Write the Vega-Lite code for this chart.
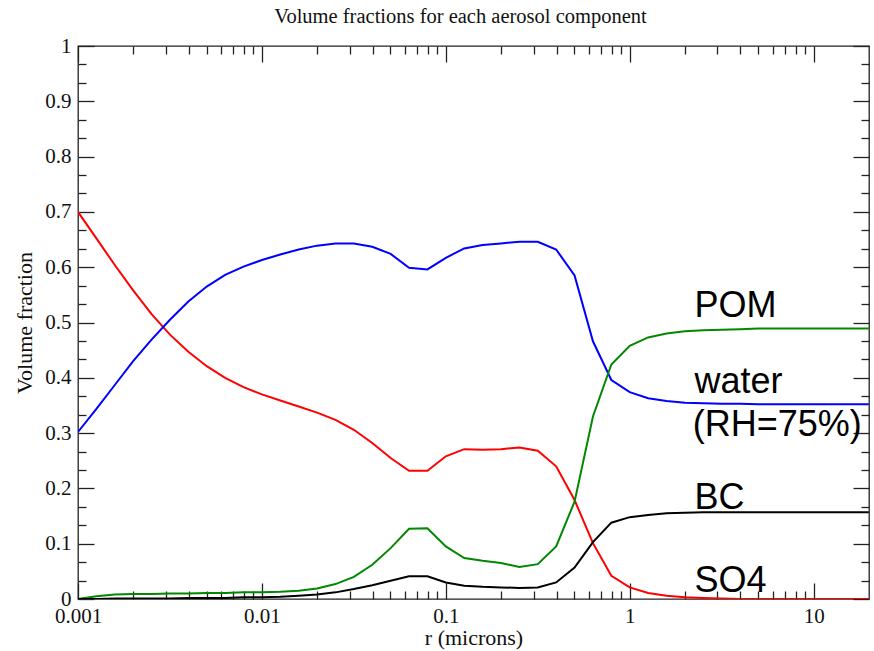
{
  "$schema": "https://vega.github.io/schema/vega-lite/v6.json",
  "width": 791,
  "height": 553,
  "autosize": "none",
  "padding": {"left": 78, "top": 46, "right": 5, "bottom": 52},
  "background": "white",
  "title": {
    "text": "Volume fractions for each aerosol component",
    "font": "Liberation Serif",
    "fontSize": 20.5,
    "fontWeight": "normal",
    "color": "#111",
    "anchor": "middle",
    "dx": -13,
    "offset": 8
  },
  "config": {
    "view": {"stroke": "#222", "strokeWidth": 1.3},
    "axis": {
      "domain": false,
      "grid": false,
      "labelFont": "Liberation Serif",
      "labelFontSize": 21,
      "labelColor": "#111",
      "labelFlush": false,
      "labelOverlap": false,
      "tickColor": "#222",
      "tickWidth": 1.3,
      "titleFont": "Liberation Serif",
      "titleFontSize": 22,
      "titleFontWeight": "normal",
      "titleColor": "#111"
    }
  },
  "datasets": {
    "curves": [
      {"r": 0.001, "SO4": 0.700, "water": 0.302, "POM": 0.000, "BC": 0.000},
      {"r": 0.001259, "SO4": 0.652, "water": 0.344, "POM": 0.005, "BC": 0.000},
      {"r": 0.001585, "SO4": 0.604, "water": 0.387, "POM": 0.008, "BC": 0.001},
      {"r": 0.001995, "SO4": 0.558, "water": 0.430, "POM": 0.009, "BC": 0.001},
      {"r": 0.002512, "SO4": 0.515, "water": 0.469, "POM": 0.009, "BC": 0.001},
      {"r": 0.003162, "SO4": 0.478, "water": 0.505, "POM": 0.010, "BC": 0.001},
      {"r": 0.003981, "SO4": 0.447, "water": 0.538, "POM": 0.010, "BC": 0.002},
      {"r": 0.005012, "SO4": 0.421, "water": 0.565, "POM": 0.011, "BC": 0.002},
      {"r": 0.00631, "SO4": 0.400, "water": 0.586, "POM": 0.011, "BC": 0.002},
      {"r": 0.007943, "SO4": 0.383, "water": 0.601, "POM": 0.012, "BC": 0.003},
      {"r": 0.01, "SO4": 0.370, "water": 0.613, "POM": 0.012, "BC": 0.003},
      {"r": 0.01259, "SO4": 0.359, "water": 0.623, "POM": 0.013, "BC": 0.004},
      {"r": 0.01585, "SO4": 0.348, "water": 0.632, "POM": 0.015, "BC": 0.006},
      {"r": 0.01995, "SO4": 0.337, "water": 0.639, "POM": 0.019, "BC": 0.008},
      {"r": 0.02512, "SO4": 0.324, "water": 0.643, "POM": 0.027, "BC": 0.012},
      {"r": 0.03162, "SO4": 0.306, "water": 0.643, "POM": 0.040, "BC": 0.018},
      {"r": 0.03981, "SO4": 0.282, "water": 0.637, "POM": 0.062, "BC": 0.025},
      {"r": 0.05012, "SO4": 0.255, "water": 0.624, "POM": 0.092, "BC": 0.033},
      {"r": 0.0631, "SO4": 0.232, "water": 0.599, "POM": 0.127, "BC": 0.041},
      {"r": 0.07943, "SO4": 0.232, "water": 0.596, "POM": 0.128, "BC": 0.041},
      {"r": 0.1, "SO4": 0.258, "water": 0.617, "POM": 0.095, "BC": 0.030},
      {"r": 0.1259, "SO4": 0.271, "water": 0.634, "POM": 0.074, "BC": 0.024},
      {"r": 0.1585, "SO4": 0.270, "water": 0.640, "POM": 0.069, "BC": 0.022},
      {"r": 0.1995, "SO4": 0.271, "water": 0.643, "POM": 0.065, "BC": 0.021},
      {"r": 0.2512, "SO4": 0.274, "water": 0.646, "POM": 0.058, "BC": 0.020},
      {"r": 0.3162, "SO4": 0.268, "water": 0.646, "POM": 0.063, "BC": 0.021},
      {"r": 0.3981, "SO4": 0.240, "water": 0.632, "POM": 0.095, "BC": 0.030},
      {"r": 0.5012, "SO4": 0.179, "water": 0.585, "POM": 0.176, "BC": 0.057},
      {"r": 0.631, "SO4": 0.101, "water": 0.466, "POM": 0.330, "BC": 0.103},
      {"r": 0.7943, "SO4": 0.042, "water": 0.396, "POM": 0.424, "BC": 0.138},
      {"r": 1, "SO4": 0.021, "water": 0.374, "POM": 0.458, "BC": 0.148},
      {"r": 1.259, "SO4": 0.011, "water": 0.363, "POM": 0.473, "BC": 0.152},
      {"r": 1.585, "SO4": 0.006, "water": 0.358, "POM": 0.480, "BC": 0.155},
      {"r": 1.995, "SO4": 0.003, "water": 0.355, "POM": 0.484, "BC": 0.156},
      {"r": 2.512, "SO4": 0.002, "water": 0.354, "POM": 0.486, "BC": 0.157},
      {"r": 3.162, "SO4": 0.001, "water": 0.353, "POM": 0.487, "BC": 0.157},
      {"r": 3.981, "SO4": 0.000, "water": 0.353, "POM": 0.488, "BC": 0.157},
      {"r": 5.012, "SO4": 0.000, "water": 0.352, "POM": 0.489, "BC": 0.157},
      {"r": 6.31, "SO4": 0.000, "water": 0.352, "POM": 0.489, "BC": 0.157},
      {"r": 7.943, "SO4": 0.000, "water": 0.352, "POM": 0.489, "BC": 0.157},
      {"r": 10, "SO4": 0.000, "water": 0.352, "POM": 0.489, "BC": 0.157},
      {"r": 12.59, "SO4": 0.000, "water": 0.352, "POM": 0.489, "BC": 0.157},
      {"r": 15.85, "SO4": 0.000, "water": 0.352, "POM": 0.489, "BC": 0.157},
      {"r": 19.95, "SO4": 0.000, "water": 0.352, "POM": 0.489, "BC": 0.157}
    ],
    "labels": [
      {"label": "POM", "r": 2.25, "v": 0.5105},
      {"label": "water", "r": 2.25, "v": 0.372},
      {"label": "(RH=75%)", "r": 2.2, "v": 0.294},
      {"label": "BC", "r": 2.25, "v": 0.162},
      {"label": "SO4", "r": 2.25, "v": 0.013}
    ]
  },
  "layer": [
    {
      "data": {"name": "curves"},
      "transform": [{"fold": ["SO4", "water", "POM", "BC"], "as": ["comp", "v"]}],
      "mark": {"type": "line", "strokeWidth": 2, "clip": true},
      "encoding": {
        "x": {
          "field": "r", "type": "quantitative",
          "scale": {"type": "log", "domain": [0.001, 20], "nice": false},
          "axis": {
            "orient": "bottom",
            "title": "r (microns)",
            "titlePadding": -7,
            "values": [0.001,0.002,0.003,0.004,0.005,0.006,0.007,0.008,0.009,0.01,0.02,0.03,0.04,0.05,0.06,0.07,0.08,0.09,0.1,0.2,0.3,0.4,0.5,0.6,0.7,0.8,0.9,1,2,3,4,5,6,7,8,9,10],
            "format": "~g",
            "labelExpr": "indexof([0.001,0.01,0.1,1,10], datum.value) >= 0 ? datum.label : ''",
            "tickSize": {"condition": {"test": "indexof([0.001,0.01,0.1,1,10], datum.value) >= 0", "value": -16}, "value": -8},
            "labelPadding": 22
          }
        },
        "y": {
          "field": "v", "type": "quantitative",
          "scale": {"domain": [0, 1], "nice": false, "zero": false},
          "axis": {
            "orient": "left",
            "title": "Volume fraction",
            "titlePadding": 8,
            "values": [0,0.03333,0.06667,0.1,0.13333,0.16667,0.2,0.23333,0.26667,0.3,0.33333,0.36667,0.4,0.43333,0.46667,0.5,0.53333,0.56667,0.6,0.63333,0.66667,0.7,0.73333,0.76667,0.8,0.83333,0.86667,0.9,0.93333,0.96667,1],
            "format": "~g",
            "labelExpr": "indexof([0,0.1,0.2,0.3,0.4,0.5,0.6,0.7,0.8,0.9,1], datum.value) >= 0 ? datum.label : ''",
            "tickSize": {"condition": {"test": "indexof([0,0.1,0.2,0.3,0.4,0.5,0.6,0.7,0.8,0.9,1], datum.value) >= 0", "value": -16}, "value": -8},
            "labelPadding": 23
          }
        },
        "color": {
          "field": "comp", "type": "nominal",
          "scale": {"domain": ["SO4", "water", "POM", "BC"], "range": ["#ff0000", "#0000ff", "#008800", "#000000"]},
          "legend": null
        }
      }
    },
    {
      "data": {"name": "curves"},
      "transform": [{"fold": ["SO4", "water", "POM", "BC"], "as": ["comp", "v"]}],
      "mark": {"type": "line", "opacity": 0},
      "encoding": {
        "x": {
          "field": "r", "type": "quantitative",
          "scale": {"type": "log", "domain": [0.001, 20], "nice": false},
          "axis": {
            "orient": "top",
            "title": null,
            "labels": false,
            "values": [0.001,0.002,0.003,0.004,0.005,0.006,0.007,0.008,0.009,0.01,0.02,0.03,0.04,0.05,0.06,0.07,0.08,0.09,0.1,0.2,0.3,0.4,0.5,0.6,0.7,0.8,0.9,1,2,3,4,5,6,7,8,9,10],
            "tickSize": {"condition": {"test": "indexof([0.001,0.01,0.1,1,10], datum.value) >= 0", "value": -16}, "value": -8}
          }
        },
        "y": {
          "field": "v", "type": "quantitative",
          "scale": {"domain": [0, 1], "nice": false, "zero": false},
          "axis": {
            "orient": "right",
            "title": null,
            "labels": false,
            "values": [0,0.03333,0.06667,0.1,0.13333,0.16667,0.2,0.23333,0.26667,0.3,0.33333,0.36667,0.4,0.43333,0.46667,0.5,0.53333,0.56667,0.6,0.63333,0.66667,0.7,0.73333,0.76667,0.8,0.83333,0.86667,0.9,0.93333,0.96667,1],
            "tickSize": {"condition": {"test": "indexof([0,0.1,0.2,0.3,0.4,0.5,0.6,0.7,0.8,0.9,1], datum.value) >= 0", "value": -16}, "value": -8}
          }
        },
        "detail": {"field": "comp", "type": "nominal"}
      }
    },
    {
      "data": {"name": "labels"},
      "mark": {"type": "text", "align": "left", "baseline": "alphabetic", "font": "Liberation Sans", "fontSize": 36, "color": "#000"},
      "encoding": {
        "x": {"field": "r", "type": "quantitative", "axis": null},
        "y": {"field": "v", "type": "quantitative", "axis": null},
        "text": {"field": "label"}
      }
    }
  ],
  "resolve": {"axis": {"x": "independent", "y": "independent"}}
}
